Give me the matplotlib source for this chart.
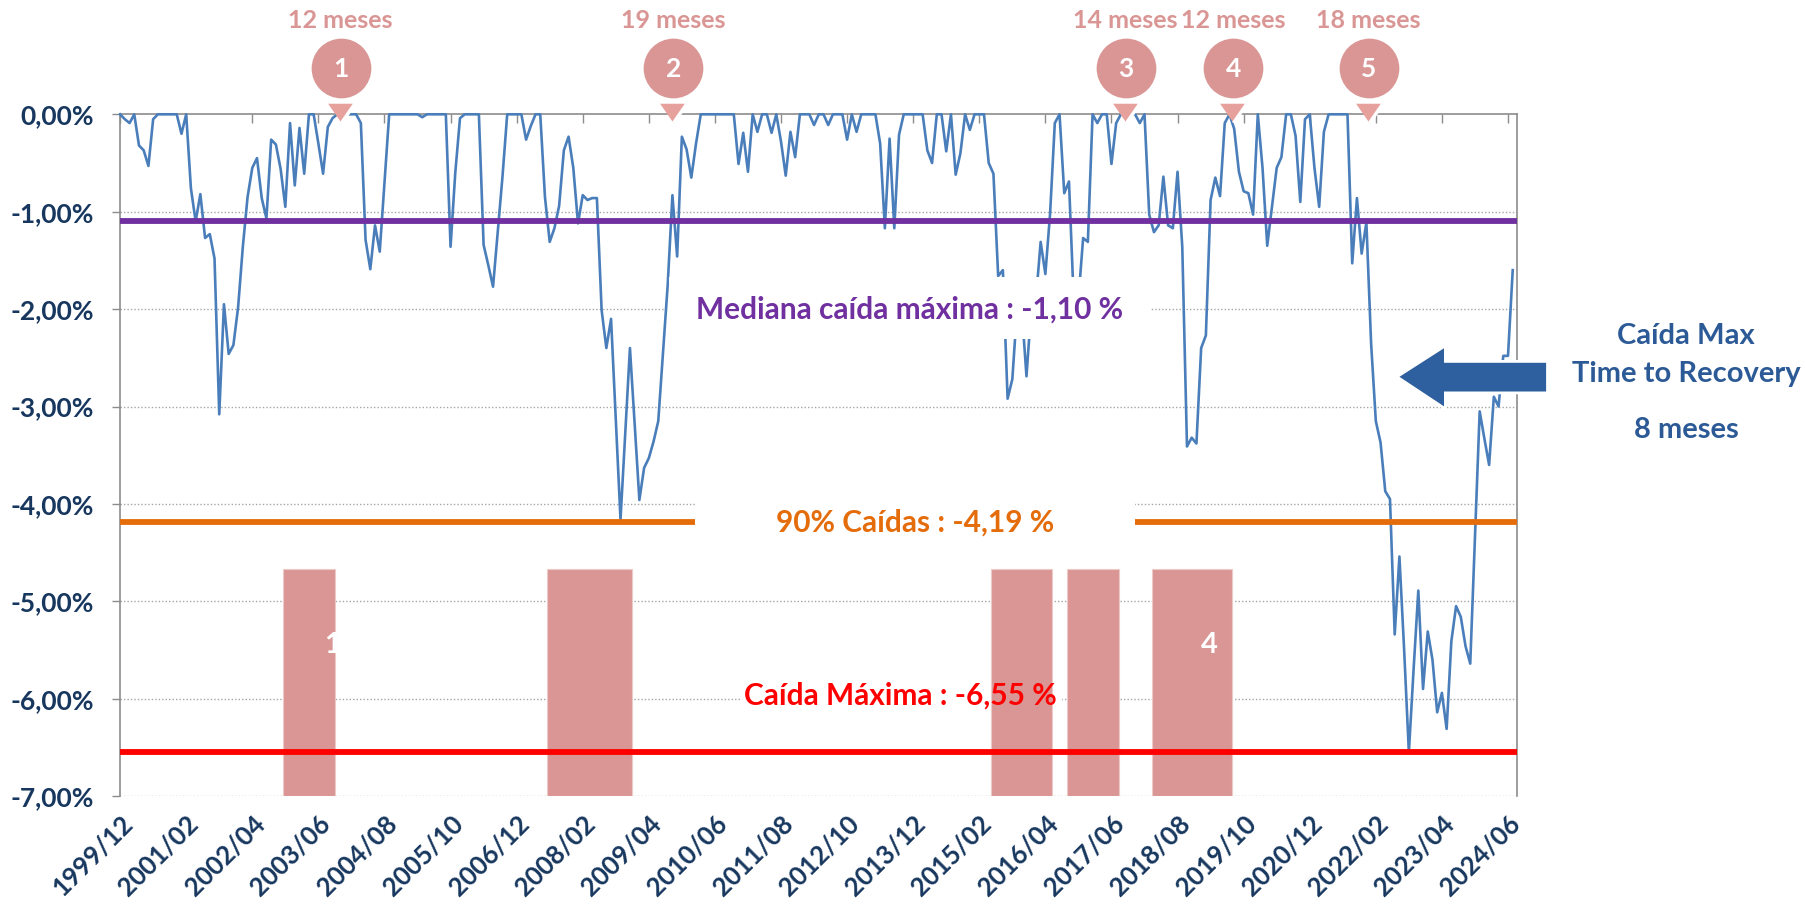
import numpy as np
import matplotlib

matplotlib.use("Agg")
import matplotlib.pyplot as plt
from matplotlib.patches import Rectangle, Polygon

plt.rcParams['font.family'] = ['Lato', 'DejaVu Sans']
plt.rcParams['font.weight'] = 'bold'

# monthly drawdown (%) from 1999/12
dd_1999_2000 = [0, -0.05, -0.09, 0, -0.32, -0.37, -0.53, -0.05, 0, 0, 0, 0, 0]
dd_2001 = [-0.20, 0, -0.76, -1.10, -0.82, -1.27, -1.23, -1.48, -3.08, -1.95, -2.46, -2.37]
dd_2002 = [-1.98, -1.36, -0.85, -0.55, -0.45, -0.86, -1.07, -0.26, -0.31, -0.56, -0.95, -0.09]
dd_2003 = [-0.73, -0.14, -0.61, 0, 0, -0.30, -0.61, -0.13, -0.04, 0, 0, 0]
dd_2004 = [0, 0, -0.09, -1.29, -1.59, -1.14, -1.41, -0.71, 0, 0, 0, 0]
dd_2005 = [0, 0, 0, -0.03, 0, 0, 0, 0, 0, -1.36, -0.60, -0.04]
dd_2006 = [0, 0, 0, 0, -1.34, -1.55, -1.77, -1.20, -0.64, 0, 0, 0]
dd_2007 = [0, -0.26, -0.12, 0, 0, -0.85, -1.31, -1.17, -0.94, -0.37, -0.23, -0.55]
dd_2008 = [-1.12, -0.83, -0.88, -0.86, -0.86, -2.01, -2.40, -2.10, -3.13, -4.16, -3.28, -2.40]
dd_2009 = [-3.18, -3.96, -3.63, -3.53, -3.36, -3.15, -2.45, -1.75, -0.83, -1.46, -0.23, -0.36]
dd_2010 = [-0.65, -0.30, 0, 0, 0, 0, 0, 0, 0, 0, -0.51, -0.19]
dd_2011 = [-0.59, 0, -0.18, 0, 0, -0.19, 0, -0.28, -0.63, -0.18, -0.44, 0]
dd_2012 = [0, 0, -0.11, 0, 0, -0.11, 0, 0, 0, -0.26, 0, -0.18]
dd_2013 = [0, 0, 0, 0, -0.30, -1.17, -0.25, -1.17, -0.21, 0, 0, 0]
dd_2014 = [0, 0, -0.37, -0.50, 0, 0, -0.38, 0, -0.62, -0.40, 0, -0.16]
dd_2015 = [0, 0, 0, -0.50, -0.61, -1.66, -1.60, -2.92, -2.72, -2.00, -2.00, -2.69]
dd_2016 = [-2.00, -1.90, -1.31, -1.64, -1.02, -0.09, 0, -0.81, -0.69, -1.90, -1.90, -1.27]
dd_2017 = [-1.31, 0, -0.09, 0, 0, -0.51, -0.09, 0, 0, 0, 0, -0.09]
dd_2018 = [0, -1.03, -1.21, -1.14, -0.64, -1.14, -1.17, -0.59, -1.36, -3.41, -3.32, -3.38]
dd_2019 = [-2.40, -2.27, -0.88, -0.65, -0.84, -0.09, 0, -0.15, -0.59, -0.79, -0.81, -1.03]
dd_2020 = [0, -0.55, -1.35, -0.95, -0.55, -0.44, 0, 0, -0.22, -0.90, -0.05, 0]
dd_2021 = [-0.55, -0.95, -0.18, 0, 0, 0, 0, 0, -1.53, -0.86, -1.43, -1.11]
dd_2022 = [-2.35, -3.15, -3.37, -3.87, -3.95, -5.34, -4.54, -5.50, -6.55, -5.70, -4.89, -5.90]
dd_2023 = [-5.31, -5.60, -6.14, -5.94, -6.31, -5.41, -5.05, -5.16, -5.46, -5.64, -4.35, -3.05]
dd_2024 = [-3.33, -3.60, -2.90, -3.00, -2.48, -2.48, -1.60]

x_labels = ["1999/12", "2001/02", "2002/04", "2003/06", "2004/08", "2005/10",
            "2006/12", "2008/02", "2009/04", "2010/06", "2011/08", "2012/10",
            "2013/12", "2015/02", "2016/04", "2017/06", "2018/08", "2019/10",
            "2020/12", "2022/02", "2023/04", "2024/06"]
y_ticks = [0, -1, -2, -3, -4, -5, -6, -7]

median_dd = -1.10
p90_dd = -4.19
max_dd = -6.55

# recovery periods drawn as pink columns
recovery_start = ["2002/11", "2007/07", "2015/05", "2016/09", "2018/03"]
recovery_len = [11, 18, 13, 11, 17]
recovery_level = -4.67

pin_numbers = ["1", "2", "3", "4", "5"]
pin_labels = ["12 meses", "19 meses", "14 meses", "12 meses", "18 meses"]

NAVY = '#17375E'
PINK = '#D99694'
GRID = '#A6A6A6'
SPINE = '#8C8C8C'


def month_index(label):
    y, m = map(int, label.split("/"))
    return (y - 1999) * 12 + (m - 12)


drawdown = np.array(dd_1999_2000 + dd_2001 + dd_2002 + dd_2003 + dd_2004 + dd_2005
                    + dd_2006 + dd_2007 + dd_2008 + dd_2009 + dd_2010 + dd_2011
                    + dd_2012 + dd_2013 + dd_2014 + dd_2015 + dd_2016 + dd_2017
                    + dd_2018 + dd_2019 + dd_2020 + dd_2021 + dd_2022 + dd_2023
                    + dd_2024)
x = np.arange(len(drawdown))

W, H = 1806, 908
fig = plt.figure(figsize=(W / 100, H / 100), dpi=100)
ax = fig.add_axes([120.1 / W, 1 - 796.1 / H, (1516.5 - 120.1) / W, (796.1 - 114.3) / H])
ax.set_xlim(0, 295.8)
ax.set_ylim(-7, 0)

# dotted gridlines
for v in y_ticks[1:]:
    ax.axhline(v, color=GRID, lw=1.0, ls=(0, (1, 1.5)), zorder=0.5)

# white box behind "Caída Máxima" text (sits under the columns)
ax.add_patch(Rectangle((131.5, -6.28), 68.0, 0.6, fc='white', ec='none', zorder=1))

for s, n in zip(recovery_start, recovery_len):
    i = month_index(s)
    ax.bar(i - 0.5, recovery_level + 7, bottom=-7, width=n, align='edge',
           color=PINK, edgecolor='#EDC9C8', lw=0.8, zorder=2)

ax.text(45.0, -5.45, "1", color='white', fontsize=21, ha='center', va='center', zorder=2.5)
ax.text(230.7, -5.45, "4", color='white', fontsize=21, ha='center', va='center', zorder=2.5)

ax.plot(x, drawdown, color='#4A7EBB', lw=1.9, zorder=3, clip_on=False)

ax.axhline(median_dd, color='#7030A0', lw=4.2, zorder=4)
ax.axhline(p90_dd, color='#E46C0A', lw=4.2, zorder=4)
ax.axhline(max_dd, color='#FF0000', lw=4.2, zorder=4)

# labelled boxes
ax.add_patch(Rectangle((116.3, -2.31), 101.9, 0.64, fc='white', ec='none', zorder=5))
ax.text(167.2, -2.0, "Mediana caída máxima : -1,10 %", color='#7030A0', fontsize=21.5,
        ha='center', va='center', zorder=6)
ax.add_patch(Rectangle((121.8, -4.55), 93.2, 0.75, fc='white', ec='none', zorder=5))
ax.text(168.4, p90_dd, "90% Caídas : -4,19 %", color='#E46C0A', fontsize=21.5,
        ha='center', va='center', zorder=6)
ax.text(165.2, -5.97, "Caída Máxima : -6,55 %", color='#FF0000', fontsize=21.5,
        ha='center', va='center', zorder=6)

# spines and ticks
for side in ['top', 'left', 'right']:
    ax.spines[side].set_color(SPINE)
    ax.spines[side].set_linewidth(1.2)
ax.spines['bottom'].set_visible(False)

ax.set_yticks(y_ticks)
ax.set_yticklabels([f"{v:.2f}%".replace('.', ',') for v in y_ticks])
ax.tick_params(axis='y', direction='out', length=6, width=1, color=SPINE, pad=13,
               labelsize=19, labelcolor=NAVY)

ax.set_xticks([month_index(l) for l in x_labels])
ax.set_xticklabels(x_labels, rotation=45, ha='right', va='top', rotation_mode='anchor')
ax.tick_params(axis='x', top=True, bottom=False, direction='in', length=6.5, width=1,
               color=SPINE, labelbottom=True, labeltop=False, pad=11,
               labelsize=18.5, labelcolor=NAVY)

# numbered pins above the chart
pin_x = [46.7, 117.2, 213.0, 235.8, 264.5]
tri = [(-1, 0.72), (1, 0.72), (0, -0.72)]
xt = ax.get_xaxis_transform()
for px, num, lab in zip(pin_x, pin_numbers, pin_labels):
    ax.plot(px, 1.068, marker='o', ms=43, color=PINK, mec='none', transform=xt,
            clip_on=False, zorder=8)
    ax.plot(px, 1.0028, marker=tri, ms=21, color='#E6A19D', mec='white', mew=2.5,
            transform=xt, clip_on=False, zorder=8)
    ax.text(px, 1.066, num, color='white', fontsize=19, ha='center', va='center',
            transform=xt, zorder=9)
    ax.text(px, 1.137, lab, color=PINK, fontsize=18, ha='center', va='center',
            transform=xt, zorder=9)

# arrow and side note
arrow_px = [(1396.9, 376.8), (1445.4, 345.7), (1445.4, 361.4), (1547.5, 361.4),
            (1547.5, 392.9), (1445.4, 392.9), (1445.4, 408.9)]
arrow = Polygon([(px / W, 1 - py / H) for px, py in arrow_px], closed=True,
                fc='#2E5F9E', ec='white', lw=2, transform=fig.transFigure, zorder=10)
fig.add_artist(arrow)

side_color = '#2C5A96'
fig.text(1686 / W, 1 - 335.7 / H, "Caída Max", color=side_color, fontsize=21,
         ha='center', va='center')
fig.text(1686 / W, 1 - 374.3 / H, "Time to Recovery", color=side_color, fontsize=21,
         ha='center', va='center')
fig.text(1686 / W, 1 - 430.4 / H, "8 meses", color=side_color, fontsize=21,
         ha='center', va='center')

fig.savefig("out.png", dpi=100)
plt.close(fig)
